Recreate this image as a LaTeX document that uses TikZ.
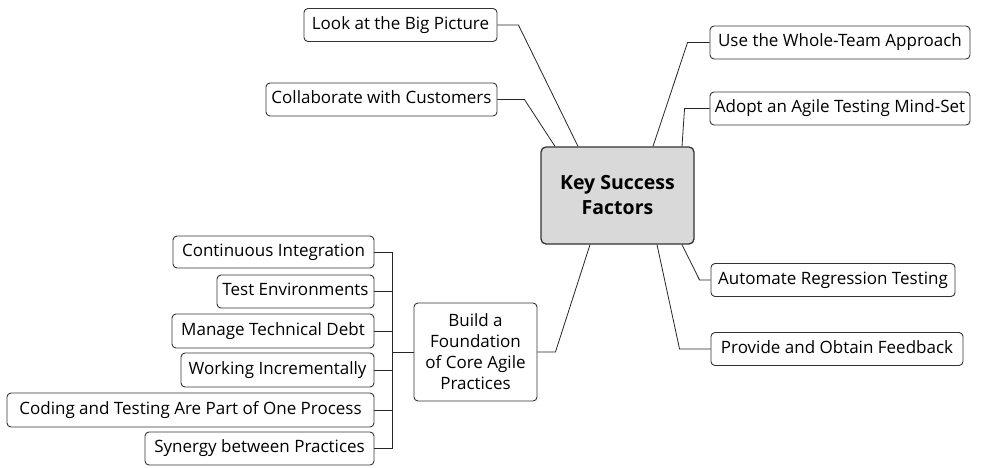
\documentclass[tikz,border=0pt]{standalone}
\usepackage{fontspec}
\setmainfont{Open Sans}
\usetikzlibrary{calc}
\tikzset{
  leaf/.style={draw=black!80, line width=0.9pt, rounded corners=4pt, fill=white, inner sep=0pt,
    minimum height=33pt, font=\fontsize{17}{20}\selectfont, align=center},
  hub/.style={draw=black!80, line width=1.3pt, rounded corners=5pt, fill=black!15, inner sep=0pt,
    minimum width=153pt, minimum height=97pt, font=\fontsize{19.5}{25}\selectfont\bfseries, align=center},
  link/.style={draw=black!85, line width=0.8pt},
}
\begin{document}
\begin{tikzpicture}[x=1pt,y=-1pt]
\useasboundingbox (0,0) rectangle (988,467);
\node[hub] (c) at (617.5,195.5) {Key Success\\Factors};
% top-left
\node[leaf, minimum width=193pt] (big) at (400.5,25) {\strut Look at the Big Picture};
\node[leaf, minimum width=231pt] (cust) at (381.5,99.5) {\strut Collaborate with Customers};
% right
\node[leaf, minimum width=260pt] (team) at (840,42.5) {\strut Use the Whole-Team Approach};
\node[leaf, minimum width=260pt] (mind) at (840,108.5) {\strut Adopt an Agile Testing Mind-Set};
\node[leaf, minimum width=244pt] (auto) at (833,280) {\strut Automate Regression Testing};
\node[leaf, minimum width=252pt] (feed) at (837,349) {\strut Provide and Obtain Feedback};
% foundation
\node[leaf, minimum width=123pt, minimum height=98pt, font=\fontsize{17}{21}\selectfont] (found) at (475.5,352) {Build a\\Foundation\\of Core Agile\\Practices};
% left column
\node[leaf, minimum width=201pt, minimum height=32pt] (ci) at (273.5,252) {\strut Continuous Integration};
\node[leaf, minimum width=157pt] (env) at (295.5,291.5) {\strut Test Environments};
\node[leaf, minimum width=202pt, minimum height=34pt] (debt) at (273,331) {\strut Manage Technical Debt};
\node[leaf, minimum width=193pt, minimum height=34pt] (inc) at (277.5,370) {\strut Working Incrementally};
\node[leaf, minimum width=367pt, minimum height=34pt] (proc) at (190.5,410) {\strut Coding and Testing Are Part of One Process};
\node[leaf, minimum width=229pt] (syn) at (259.5,448.5) {\strut Synergy between Practices};
% connectors
\draw[link] (big.east) -- ++(21,0) -- ($(c.north)+(-39.5,0)$);
\draw[link] (cust.east) -- ++(27,0) -- ($(c.north)+(-62.5,0)$);
\draw[link] (team.west) -- ++(-22,0) -- ($(c.north)+(35.5,0)$);
\draw[link] (mind.west) -- ++(-25,0) -- ($(c.north)+(64.5,0)$);
\draw[link] (auto.west) -- ++(-11,0) -- ($(c.south)+(64.5,0)$);
\draw[link] (feed.west) -- ++(-31,0) -- ($(c.south)+(39.5,0)$);
\draw[link] (found.east) -- ++(18,0) -- ($(c.south)+(-27.5,0)$);
\coordinate (bx) at (392,352);
\draw[link] (found.west) -- (bx);
\draw[link] (ci.east) -- (ci.east -| bx) -- (syn.east -| bx) -- (syn.east);
\foreach \n in {env,debt,inc,proc} \draw[link] (\n.east) -- (\n.east -| bx);
\end{tikzpicture}
\end{document}
